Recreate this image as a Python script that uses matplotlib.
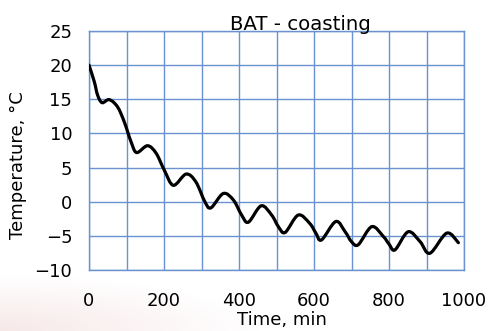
import numpy as np
import matplotlib
matplotlib.use("Agg")
import matplotlib.pyplot as plt
from matplotlib.path import Path
from matplotlib.patches import PathPatch

# Battery temperature while coasting
time_min = [0, 14, 23, 35, 54, 76, 94, 112, 127, 156, 179, 201, 225, 259, 285,
            309, 325, 358, 385, 407, 425, 459, 487, 505, 523, 558, 589, 605, 620,
            658, 683, 700, 718, 754, 785, 800, 816, 851, 883, 909, 954, 985]
temp_c = [20, 17.6, 15.6, 14.5, 14.95, 13.9, 11.7, 8.8, 7.2, 8.2, 7.1, 4.6, 2.4,
          4.05, 2.9, 0, -0.9, 1.2, 0.25, -1.95, -3.0, -0.6, -1.95, -3.65, -4.5,
          -1.95, -3.2, -4.6, -5.6, -2.9, -4.4, -5.85, -6.3, -3.65, -5.1, -6.2,
          -7.05, -4.4, -5.85, -7.55, -4.6, -6.0]

x_ticks = [0, 200, 400, 600, 800, 1000]
y_ticks = [-10, -5, 0, 5, 10, 15, 20, 25]

GRID = "#6a92d0"
FS = 13

fig = plt.figure(figsize=(4.92, 3.31), dpi=100)

# faint warm tint in the lower-left corner of the slide background
bg = fig.add_axes([0, 0, 1, 1], zorder=-10)
bg.set_axis_off()
gx, gy = np.meshgrid(np.linspace(0, 492, 246), np.linspace(0, 331, 166))
d = np.hypot(gx / 260.0, (gy) / 55.0)
alpha = np.clip(1.0 - d, 0, 1) * 0.45
rgba = np.zeros(gx.shape + (4,))
rgba[..., 0], rgba[..., 1], rgba[..., 2] = 0.93, 0.80, 0.80
rgba[..., 3] = alpha
bg.imshow(rgba, origin="lower", extent=[0, 1, 0, 1], aspect="auto",
          interpolation="bilinear")
bg.set_xlim(0, 1)
bg.set_ylim(0, 1)

ax = fig.add_axes([89 / 492, 1 - 270 / 331, 375 / 492, 239 / 331])
ax.set_facecolor("white")
ax.set_xlim(0, 1000)
ax.set_ylim(-10, 25)
ax.set_xticks(x_ticks)
ax.set_yticks(y_ticks)
ax.set_xticks(np.arange(0, 1001, 100), minor=True)
ax.tick_params(which="both", length=0, labelsize=FS)
ax.tick_params(axis="x", pad=16)
ax.tick_params(axis="y", pad=12)
ax.grid(True, which="both", color=GRID, lw=1.0)
ax.set_axisbelow(True)
for s in ax.spines.values():
    s.set_color(GRID)
    s.set_linewidth(1.0)

# Smoothed line through the readings (Catmull-Rom segments as cubic Beziers)
pts = np.column_stack([time_min, temp_c]).astype(float)
ext = np.vstack([pts[0], pts, pts[-1]])
verts = [tuple(pts[0])]
codes = [Path.MOVETO]
for i in range(len(pts) - 1):
    p0, p1, p2, p3 = ext[i], ext[i + 1], ext[i + 2], ext[i + 3]
    c1 = p1 + (p2 - p0) / 6.0
    c2 = p2 - (p3 - p1) / 6.0
    verts += [tuple(c1), tuple(c2), tuple(p2)]
    codes += [Path.CURVE4] * 3
ax.add_patch(PathPatch(Path(verts, codes), facecolor="none", edgecolor="black",
                       lw=2.3, capstyle="round", joinstyle="round", zorder=3))

fig.text(300 / 492, 1 - 30 / 331, "BAT - coasting", ha="center", va="baseline",
         fontsize=14.2)
fig.text(18 / 492, 1 - 165 / 331, "Temperature, °C", ha="center", va="center",
         rotation=90, fontsize=FS)
fig.text(282 / 492, 1 - 320 / 331, "Time, min", ha="center", va="center",
         fontsize=FS)

fig.savefig("out.png", dpi=100)
